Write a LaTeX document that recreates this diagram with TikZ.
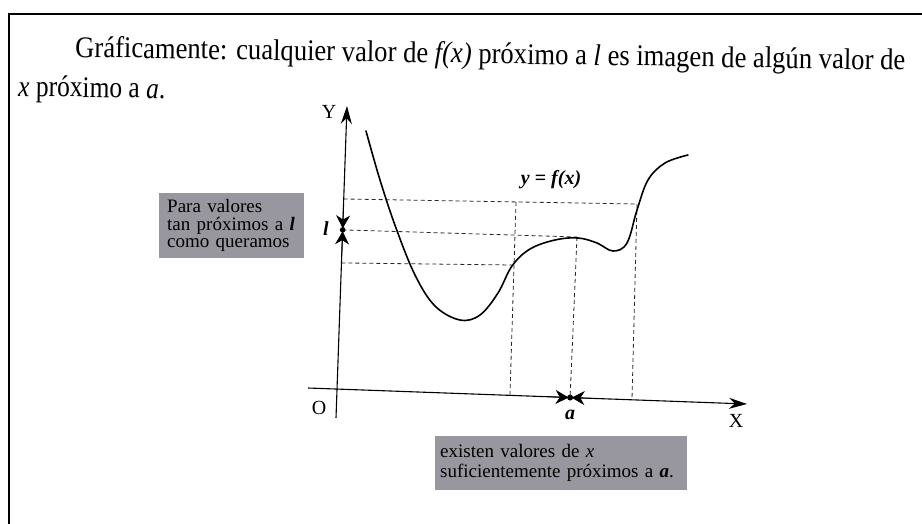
\documentclass[tikz,border=0pt]{standalone}
\usepackage{fontspec}
\setmainfont{Liberation Serif}
\usepackage{graphicx}
\usetikzlibrary{arrows.meta,calc}
\definecolor{boxgray}{RGB}{152,150,158}
\begin{document}
\begin{tikzpicture}[x=1pt,y=-1pt,
  axis/.style={line width=1.1pt, -{Stealth[length=18pt,width=11pt]}},
  guide/.style={line width=0.8pt, dash pattern=on 4pt off 3pt, black!85},
  curvestyle/.style={line width=1.6pt, line cap=round},
  graybox/.style={fill=boxgray, inner ysep=0pt},
  pinarrow/.style={line width=0.8pt, -{Stealth[length=13pt,width=14pt]}},
  lbl/.style={inner sep=0pt, font=\fontsize{20}{20}\selectfont},
  blbl/.style={inner sep=0pt, font=\fontsize{20}{20}\selectfont\bfseries\itshape},
  ]
\useasboundingbox (0,0) rectangle (922,524);
% frame
\draw[line width=2.5pt] (9,524) -- (9,14) -- (922,14);
% main text
\node[inner sep=0pt, anchor=base west, rotate=-0.9, font=\fontsize{30}{30}\selectfont] (t1) at (75,57)
  {\resizebox{830pt}{\height}{Gráficamente: cualquier valor de \textit{f(x)} próximo a \textit{l} es imagen de algún valor de}};
\node[inner sep=0pt, anchor=base west, rotate=-0.9, font=\fontsize{30}{30}\selectfont] (t2) at (18,96)
  {\resizebox{147pt}{\height}{\textit{x} próximo a \textit{a}.}};
% axes
\coordinate (ybot) at (336,418);
\coordinate (ytop) at (347,106);
\coordinate (xl) at (308,388);
\coordinate (xr) at (747,404);
\draw[axis] (ybot) -- (ytop);
\draw[axis] (xl) -- (xr);
\node[lbl] (Y) at (329,112) {Y};
\node[lbl] (O) at (319,408) {O};
\node[lbl] (X) at (736,421) {X};
% key points
\coordinate (l) at ($(ybot)!0.603!(ytop)$);
\coordinate (yup) at ($(ybot)!0.702!(ytop)$);
\coordinate (ylo) at ($(ybot)!0.497!(ytop)$);
\coordinate (lt) at ($(ybot)!0.680!(ytop)$);
\coordinate (lb) at ($(ybot)!0.526!(ytop)$);
\coordinate (a) at ($(xl)!0.597!(xr)$);
\coordinate (al) at ($(xl)!0.548!(xr)$);
\coordinate (ar) at ($(xl)!0.646!(xr)$);
\coordinate (xa1) at ($(xl)!0.460!(xr)$);
\coordinate (xa2) at ($(xl)!0.738!(xr)$);
\coordinate (u1) at (516,202);
\coordinate (u2) at (637,204);
\coordinate (m2) at (577,237);
\coordinate (lo2) at (512,265);
% guides
\draw[guide] (yup) -- (u2);
\draw[guide] (l) -- (m2);
\draw[guide] (ylo) -- (lo2);
\draw[guide] (u1) -- (xa1);
\draw[guide] (u2) -- (xa2);
\draw[guide] (m2) -- (a);
% curve
\draw[curvestyle] plot[smooth, tension=0.6] coordinates {
 (366,131) (380,180) (396,228) (415,275) (435,306) (460,320) (480,315)
 (498,293) (512,266) (530,249) (555,240) (578,238) (597,243) (613,251)
 (627,243) (637,210) (648,180) (665,163) (688,155)};
\node[blbl] (fx) at (551,180) {y \textup{=} f(x)};
% pins at l and a
\draw[pinarrow, shorten >=1.5pt] (lt) -- (l);
\draw[pinarrow, shorten >=1.5pt] (lb) -- (l);
\draw[pinarrow, shorten >=1.5pt] (al) -- (a);
\draw[pinarrow, shorten >=1.5pt] (ar) -- (a);
\fill (l) circle (2.8pt);
\fill (a) circle (3pt);
\node[blbl] (lname) at (326,229) {l};
\node[blbl] (aname) at (570,415) {a};
% boxes
\node[graybox, anchor=north west, text width=129pt, minimum height=65pt, inner xsep=8pt,
      align=left, font=\fontsize{19}{17.5}\selectfont] (b1) at (159,193)
  {Para valores\\tan próximos a \textbf{\textit{l}}\\como queramos};
\node[graybox, anchor=north west, text width=242pt, minimum height=54pt, inner xsep=5pt,
      align=left, font=\fontsize{19}{20}\selectfont] (b2) at (435,436)
  {existen valores de \textit{x}\\suficientemente próximos a \textbf{\textit{a}}.};
\end{tikzpicture}
\end{document}
